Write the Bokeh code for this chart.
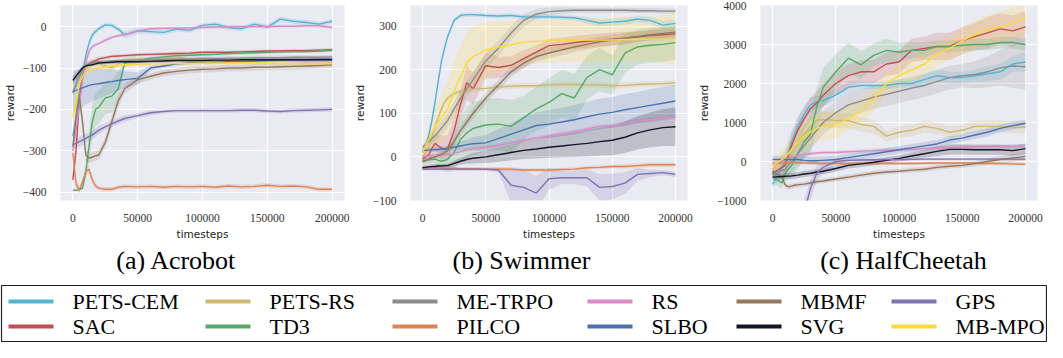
from bokeh.plotting import figure
from bokeh.layouts import column, row
from bokeh.models import Range1d, FixedTicker
from bokeh.core.properties import value
from bokeh.embed import file_html
from bokeh.resources import INLINE

# ---------------- data ----------------
steps = [0, 2500, 5000, 7500, 10000, 12500, 15000, 17500, 20000, 25000, 30000, 35000, 40000,
         50000, 60000, 70000, 80000, 90000, 100000, 110000, 120000, 130000, 140000, 150000,
         160000, 170000, 180000, 190000, 200000]

names = ["PETS-CEM", "SAC", "PETS-RS", "TD3", "ME-TRPO", "PILCO",
         "RS", "SLBO", "MBMF", "SVG", "GPS", "MB-MPO"]
colors = ["#56b4d3", "#c44e52", "#ccb974", "#55a868", "#8c8c8c", "#dd8452",
          "#da8bc3", "#4c72b0", "#937860", "#15152a", "#8172b3", "#fdd93a"]

env_titles = ["(a) Acrobot", "(b) Swimmer", "(c) HalfCheetah"]

# ---- Acrobot: means ----
acro_pets_cem = [-265, -215, -160, -110, -70, -40, -20, -12, -5, 4, 3, -6, -20, -10, -12, -14, -6, -9, 3, 6, -2, -5, 6, -1, 18, 13, 10, 6, 13]
acro_sac = [-370, -300, -180, -120, -95, -90, -85, -82, -78, -75, -72, -71, -70, -68, -67, -66, -65, -64, -62, -62, -62, -61, -60, -59, -59, -58, -58, -57, -56]
acro_pets_rs = [-160, -140, -120, -108, -100, -95, -90, -88, -90, -95, -100, -90, -80, -78, -80, -78, -72, -80, -80, -82, -85, -80, -82, -80, -80, -83, -85, -84, -85]
acro_td3 = [-395, -395, -394, -390, -350, -290, -230, -200, -195, -172, -168, -150, -88, -82, -76, -73, -70, -69, -68, -67, -65, -64, -63, -62, -61, -60, -60, -59, -57]
acro_me_trpo = [-160, -140, -120, -105, -95, -90, -88, -86, -85, -84, -83, -82, -82, -81, -80, -79, -78, -78, -77, -77, -76, -76, -75, -75, -75, -74, -74, -74, -73]
acro_pilco = [-305, -380, -395, -375, -350, -345, -370, -385, -390, -393, -393, -388, -386, -387, -386, -388, -386, -387, -386, -388, -385, -387, -386, -383, -386, -385, -387, -393, -393]
acro_rs = [-300, -250, -190, -130, -86, -60, -48, -44, -41, -33, -26, -22, -19, -11, -5, -4, -4, -3, -2, -1, -1, 0, 0, 0, 1, 1, 2, 2, -2]
acro_slbo = [-157, -154, -151, -148, -145, -142, -140, -139, -138, -135, -133, -130, -128, -125, -100, -95, -90, -88, -87, -86, -85, -84, -83, -82, -81, -80, -80, -79, -78]
acro_mbmf = [-290, -220, -170, -230, -310, -318, -315, -312, -310, -280, -230, -180, -150, -128, -120, -112, -108, -105, -103, -102, -100, -100, -98, -98, -97, -96, -95, -94, -92]
acro_svg = [-130, -120, -110, -100, -95, -93, -92, -90, -88, -87, -86, -85, -85, -85, -84, -83, -82, -82, -82, -81, -81, -80, -80, -80, -80, -80, -80, -80, -80]
acro_gps = [-285, -282, -278, -274, -270, -266, -262, -256, -250, -242, -235, -228, -222, -215, -208, -205, -203, -203, -203, -203, -203, -202, -202, -204, -205, -203, -202, -201, -200]
acro_mb_mpo = [-220, -180, -140, -120, -110, -106, -103, -101, -100, -97, -95, -93, -92, -91, -90, -90, -89, -89, -88, -88, -88, -88, -88, -88, -89, -89, -90, -90, -90]

# ---- Acrobot: band half-widths ----
acro_pets_cem_sd = [15, 15, 15, 12, 10, 8, 8, 6, 6, 6, 6, 6, 8, 8, 6, 6, 6, 6, 6, 6, 6, 6, 6, 6, 6, 6, 6, 6, 6]
acro_sac_sd = [20, 20, 20, 15, 10, 8, 6, 5, 5, 4, 4, 4, 4, 4, 4, 4, 4, 4, 4, 4, 4, 4, 4, 4, 4, 4, 4, 4, 4]
acro_pets_rs_sd = [10, 10, 10, 10, 10, 10, 8, 8, 8, 10, 10, 8, 6, 6, 6, 6, 6, 6, 6, 6, 6, 6, 6, 6, 6, 6, 6, 6, 6]
acro_td3_sd = [2, 2, 2, 3, 20, 35, 40, 40, 40, 40, 40, 40, 10, 5, 4, 4, 4, 4, 4, 4, 4, 4, 4, 4, 4, 4, 4, 4, 4]
acro_me_trpo_sd = [10, 10, 10, 8, 6, 6, 5, 5, 5, 5, 5, 5, 5, 5, 5, 5, 5, 5, 5, 5, 5, 5, 5, 5, 5, 5, 5, 5, 5]
acro_pilco_sd = [10, 10, 8, 10, 10, 10, 8, 6, 5, 5, 5, 5, 5, 5, 5, 5, 5, 5, 5, 5, 5, 5, 5, 5, 5, 5, 5, 5, 5]
acro_rs_sd = [10, 10, 10, 10, 8, 6, 5, 4, 4, 4, 4, 4, 4, 4, 4, 4, 4, 4, 4, 4, 4, 4, 4, 4, 4, 4, 4, 4, 4]
acro_slbo_sd = [50, 50, 48, 46, 44, 42, 40, 38, 36, 32, 28, 24, 20, 15, 6, 5, 4, 4, 4, 4, 4, 4, 4, 4, 4, 4, 4, 4, 4]
acro_mbmf_sd = [20, 20, 20, 20, 15, 12, 12, 12, 12, 12, 15, 15, 12, 10, 8, 8, 8, 8, 8, 8, 8, 8, 8, 8, 8, 8, 8, 8, 8]
acro_svg_sd = [10, 10, 8, 6, 5, 5, 4, 4, 4, 4, 4, 4, 4, 4, 4, 4, 4, 4, 4, 4, 4, 4, 4, 4, 4, 4, 4, 4, 4]
acro_gps_sd = [12, 12, 12, 12, 12, 10, 10, 10, 10, 8, 8, 8, 8, 6, 6, 5, 5, 5, 5, 5, 5, 5, 5, 5, 5, 5, 5, 5, 5]
acro_mb_mpo_sd = [20, 20, 15, 10, 8, 6, 5, 5, 5, 5, 5, 5, 5, 5, 5, 5, 5, 5, 5, 5, 5, 5, 5, 5, 5, 5, 5, 5, 5]

# ---- Swimmer: means ----
swim_pets_cem = [10, 25, 49, 85, 127, 175, 220, 250, 277, 313, 324, 326, 326, 324, 323, 324, 321, 321, 321, 320, 319, 313, 307, 309, 311, 316, 313, 302, 306]
swim_sac = [-5, 0, 5, 20, 31, 25, 20, 18, 20, 60, 120, 170, 156, 209, 205, 210, 225, 240, 255, 258, 262, 265, 268, 270, 272, 275, 278, 280, 282]
swim_pets_rs = [0, 10, 25, 45, 70, 90, 110, 125, 135, 145, 150, 152, 155, 157, 160, 162, 163, 163, 165, 166, 166, 165, 165, 163, 164, 166, 167, 168, 170]
swim_td3 = [-10, -8, -7, -6, -5, -8, -10, -8, -5, 10, 40, 55, 65, 73, 75, 70, 90, 110, 125, 145, 135, 182, 200, 188, 238, 252, 256, 258, 262]
swim_me_trpo = [22, 28, 35, 42, 49, 57, 66, 75, 84, 110, 134, 156, 177, 220, 249, 284, 313, 327, 333, 335, 336, 336, 336, 336, 336, 335, 335, 334, 334]
swim_pilco = [-25, -25, -25, -25, -25, -25, -26, -26, -26, -26, -27, -27, -27, -28, -28, -28, -30, -30, -30, -29, -28, -25, -24, -22, -22, -20, -18, -18, -18]
swim_rs = [0, 1, 2, 3, 4, 5, 5, 5, 5, 8, 12, 16, 19, 22, 27, 32, 38, 43, 48, 53, 58, 64, 70, 72, 76, 82, 85, 88, 91]
swim_slbo = [15, 15, 16, 16, 17, 17, 18, 18, 20, 22, 25, 28, 30, 32, 42, 52, 62, 72, 75, 80, 85, 92, 98, 102, 108, 113, 118, 123, 128]
swim_mbmf = [-10, -8, -5, -2, 0, 3, 6, 10, 15, 35, 60, 80, 100, 135, 165, 195, 215, 230, 238, 245, 252, 258, 264, 268, 272, 276, 280, 283, 286]
swim_svg = [-25, -24, -23, -22, -22, -21, -21, -20, -20, -15, -10, -6, -3, 0, 5, 10, 15, 18, 22, 25, 28, 31, 35, 38, 45, 55, 62, 67, 69]
swim_gps = [-28, -28, -28, -28, -28, -28, -28, -28, -28, -28, -28, -28, -28, -28, -30, -65, -70, -83, -50, -48, -48, -48, -70, -68, -60, -40, -38, -36, -40]
swim_mb_mpo = [10, 25, 40, 55, 70, 80, 90, 100, 110, 150, 184, 216, 230, 245, 252, 257, 263, 265, 266, 267, 268, 268, 268, 268, 269, 269, 270, 270, 270]

# ---- Swimmer: band half-widths ----
swim_pets_cem_sd = [5, 8, 10, 10, 10, 10, 8, 8, 6, 5, 5, 5, 5, 5, 5, 5, 5, 5, 5, 5, 5, 8, 8, 8, 8, 8, 8, 10, 10]
swim_sac_sd = [10, 10, 15, 20, 20, 25, 30, 30, 30, 30, 35, 40, 35, 30, 25, 20, 20, 15, 15, 15, 15, 15, 15, 15, 15, 12, 12, 12, 12]
swim_pets_rs_sd = [5, 5, 5, 5, 6, 6, 6, 6, 6, 6, 6, 6, 6, 6, 6, 6, 6, 6, 6, 6, 6, 6, 6, 6, 6, 6, 6, 6, 6]
swim_td3_sd = [10, 10, 10, 10, 10, 15, 20, 25, 30, 40, 50, 60, 60, 60, 60, 60, 50, 50, 55, 55, 55, 50, 50, 45, 45, 40, 40, 40, 40]
swim_me_trpo_sd = [5, 8, 10, 12, 14, 15, 16, 17, 18, 18, 18, 18, 18, 18, 18, 16, 14, 12, 10, 8, 6, 6, 6, 6, 6, 6, 6, 6, 6]
swim_pilco_sd = [4, 4, 4, 4, 4, 4, 4, 4, 4, 4, 4, 4, 4, 4, 4, 4, 4, 4, 4, 4, 4, 4, 4, 4, 5, 5, 5, 5, 5]
swim_rs_sd = [5, 5, 5, 5, 5, 5, 5, 5, 5, 5, 5, 5, 5, 5, 5, 5, 5, 5, 5, 5, 5, 5, 5, 5, 5, 5, 5, 5, 5]
swim_slbo_sd = [5, 5, 5, 5, 5, 6, 6, 6, 7, 8, 10, 12, 15, 18, 22, 25, 28, 30, 32, 32, 34, 34, 35, 35, 36, 36, 37, 38, 38]
swim_mbmf_sd = [5, 5, 5, 6, 6, 7, 8, 9, 10, 10, 12, 12, 12, 12, 12, 12, 12, 12, 12, 12, 12, 12, 12, 12, 12, 12, 12, 12, 12]
swim_svg_sd = [5, 5, 5, 5, 5, 5, 5, 5, 5, 6, 8, 10, 12, 14, 16, 18, 20, 22, 24, 26, 28, 30, 32, 34, 36, 38, 40, 42, 44]
swim_gps_sd = [3, 3, 3, 3, 3, 3, 3, 3, 3, 3, 3, 3, 3, 3, 5, 40, 40, 40, 25, 15, 15, 20, 30, 30, 25, 15, 8, 6, 6]
swim_mb_mpo_sd = [15, 20, 30, 40, 45, 50, 55, 60, 65, 70, 70, 70, 70, 65, 60, 55, 50, 50, 50, 50, 50, 50, 50, 50, 50, 50, 50, 55, 60]

# ---- HalfCheetah: means ----
cheetah_pets_cem = [-584, -450, -300, -150, 0, 250, 500, 700, 900, 1200, 1450, 1530, 1560, 1700, 1900, 1950, 1950, 1950, 2000, 2000, 2100, 2200, 2150, 2150, 2200, 2250, 2300, 2500, 2550]
cheetah_sac = [-300, -250, -200, -150, -100, 150, 400, 600, 800, 1100, 1350, 1500, 1700, 2000, 2200, 2300, 2300, 2500, 2550, 2850, 2900, 2950, 2950, 3100, 3200, 3300, 3400, 3350, 3450]
cheetah_pets_rs = [-200, -120, -50, 20, 100, 200, 300, 400, 500, 700, 900, 1050, 1080, 1050, 1050, 950, 900, 650, 750, 800, 900, 850, 750, 800, 900, 900, 900, 880, 870]
cheetah_td3 = [-300, -450, -500, -550, -300, -200, -100, 50, 200, 500, 700, 1400, 1900, 2300, 2650, 2480, 2720, 2850, 2800, 2850, 2850, 2950, 2950, 2980, 3000, 3000, 3050, 3050, 3000]
cheetah_me_trpo = [-300, -280, -260, -230, -200, -100, 0, 100, 200, 400, 600, 800, 1000, 1250, 1450, 1550, 1650, 1720, 1800, 1880, 1950, 2050, 2150, 2200, 2230, 2300, 2400, 2450, 2430]
cheetah_pilco = [-50, -45, -40, -35, -30, -30, -30, -30, -30, -35, -40, -45, -50, -50, -50, -50, -50, -50, -50, -50, -45, -40, -40, -40, -45, -50, -55, -60, -70]
cheetah_rs = [-100, -60, -20, 20, 50, 80, 110, 130, 150, 180, 200, 220, 230, 230, 250, 265, 280, 290, 300, 315, 330, 345, 360, 370, 380, 385, 390, 395, 400]
cheetah_slbo = [50, 50, 50, 50, 50, 50, 50, 50, 50, 30, 20, 20, 30, 50, 100, 150, 200, 250, 300, 350, 400, 450, 550, 600, 680, 750, 850, 920, 980]
cheetah_mbmf = [-250, -300, -350, -400, -600, -650, -630, -610, -600, -580, -550, -520, -500, -450, -400, -350, -300, -270, -250, -220, -200, -150, -120, -100, -50, 0, 50, 90, 130]
cheetah_svg = [-400, -395, -390, -385, -380, -375, -370, -360, -350, -320, -300, -270, -250, -180, -100, -60, -20, 30, 80, 140, 200, 260, 310, 310, 300, 300, 300, 280, 330]
cheetah_gps = [-3000, -2800, -2600, -2400, -2200, -2000, -1800, -1600, -1400, -1300, -700, -300, -150, 0, 30, 40, 45, 50, 50, 55, 60, 60, 60, 60, 60, 60, 60, 60, 60]
cheetah_mb_mpo = [-100, -50, 0, 50, 100, 200, 300, 400, 500, 650, 750, 850, 900, 950, 1100, 1300, 1600, 2000, 2200, 2350, 2500, 2750, 2900, 3100, 3250, 3400, 3450, 3550, 3700]

# ---- HalfCheetah: band half-widths ----
cheetah_pets_cem_sd = [100, 150, 200, 250, 300, 300, 300, 250, 250, 200, 200, 150, 150, 150, 150, 100, 100, 100, 100, 100, 150, 150, 150, 150, 150, 200, 200, 200, 250]
cheetah_sac_sd = [100, 100, 120, 150, 200, 250, 300, 300, 300, 300, 300, 300, 300, 300, 300, 300, 300, 300, 300, 300, 300, 350, 350, 350, 350, 400, 400, 400, 400]
cheetah_pets_rs_sd = [100, 100, 120, 150, 150, 150, 180, 200, 200, 200, 200, 200, 200, 200, 200, 180, 180, 150, 150, 150, 150, 150, 150, 150, 150, 150, 150, 150, 150]
cheetah_td3_sd = [150, 150, 150, 150, 200, 250, 300, 350, 400, 450, 500, 500, 500, 450, 400, 350, 300, 300, 250, 200, 200, 150, 150, 150, 150, 150, 150, 150, 150]
cheetah_me_trpo_sd = [100, 100, 120, 150, 200, 250, 300, 300, 300, 300, 300, 300, 300, 300, 300, 300, 300, 300, 300, 300, 300, 300, 300, 300, 350, 400, 450, 550, 600]
cheetah_pilco_sd = [40, 40, 40, 40, 40, 40, 40, 40, 40, 40, 40, 40, 40, 40, 40, 40, 40, 40, 40, 40, 40, 40, 40, 40, 40, 40, 40, 40, 40]
cheetah_rs_sd = [50, 50, 50, 50, 50, 50, 50, 50, 50, 50, 50, 50, 50, 50, 50, 50, 50, 50, 50, 50, 50, 50, 50, 50, 50, 50, 50, 50, 50]
cheetah_slbo_sd = [100, 100, 100, 100, 100, 100, 100, 100, 100, 100, 100, 100, 100, 100, 100, 100, 100, 100, 100, 100, 100, 100, 100, 100, 100, 100, 100, 100, 100]
cheetah_mbmf_sd = [60, 60, 60, 60, 60, 60, 60, 60, 60, 60, 60, 60, 60, 60, 60, 60, 60, 60, 60, 60, 60, 60, 60, 60, 70, 80, 90, 100, 100]
cheetah_svg_sd = [80, 80, 80, 80, 80, 80, 80, 80, 80, 80, 80, 80, 80, 80, 80, 80, 80, 80, 80, 100, 100, 120, 130, 130, 130, 130, 130, 130, 130]
cheetah_gps_sd = [300, 300, 300, 300, 300, 300, 300, 300, 300, 300, 250, 200, 150, 80, 40, 30, 30, 30, 30, 30, 30, 30, 30, 30, 30, 30, 30, 30, 30]
cheetah_mb_mpo_sd = [100, 150, 200, 250, 300, 300, 300, 300, 300, 350, 350, 350, 350, 350, 300, 300, 300, 300, 300, 300, 300, 300, 300, 350, 350, 350, 400, 400, 400]

acro_ticks = [-400, -300, -200, -100, 0]
swim_ticks = [-100, 0, 100, 200, 300]
cheetah_ticks = [-1000, 0, 1000, 2000, 3000, 4000]
x_ticks = [0, 50000, 100000, 150000, 200000]

acro_means = [acro_pets_cem, acro_sac, acro_pets_rs, acro_td3, acro_me_trpo, acro_pilco,
              acro_rs, acro_slbo, acro_mbmf, acro_svg, acro_gps, acro_mb_mpo]
acro_sds = [acro_pets_cem_sd, acro_sac_sd, acro_pets_rs_sd, acro_td3_sd, acro_me_trpo_sd, acro_pilco_sd,
            acro_rs_sd, acro_slbo_sd, acro_mbmf_sd, acro_svg_sd, acro_gps_sd, acro_mb_mpo_sd]
swim_means = [swim_pets_cem, swim_sac, swim_pets_rs, swim_td3, swim_me_trpo, swim_pilco,
              swim_rs, swim_slbo, swim_mbmf, swim_svg, swim_gps, swim_mb_mpo]
swim_sds = [swim_pets_cem_sd, swim_sac_sd, swim_pets_rs_sd, swim_td3_sd, swim_me_trpo_sd, swim_pilco_sd,
            swim_rs_sd, swim_slbo_sd, swim_mbmf_sd, swim_svg_sd, swim_gps_sd, swim_mb_mpo_sd]
cheetah_means = [cheetah_pets_cem, cheetah_sac, cheetah_pets_rs, cheetah_td3, cheetah_me_trpo, cheetah_pilco,
                 cheetah_rs, cheetah_slbo, cheetah_mbmf, cheetah_svg, cheetah_gps, cheetah_mb_mpo]
cheetah_sds = [cheetah_pets_cem_sd, cheetah_sac_sd, cheetah_pets_rs_sd, cheetah_td3_sd, cheetah_me_trpo_sd, cheetah_pilco_sd,
               cheetah_rs_sd, cheetah_slbo_sd, cheetah_mbmf_sd, cheetah_svg_sd, cheetah_gps_sd, cheetah_mb_mpo_sd]

# ---------------- styling ----------------
BG = "#eaeaf2"
TICK_FONT = "Liberation Serif"
LABEL_FONT = "DejaVu Sans"
TOP_H = 242


def fmt(v):
    return ("\u2212" + str(-v)) if v < 0 else str(v)


def panel(means, sds, yr, yticks, width, bl, br):
    p = figure(width=width, height=TOP_H, x_range=Range1d(-9500, 209500), y_range=Range1d(*yr),
               output_backend="svg", toolbar_location=None,
               min_border_left=bl, min_border_right=br, min_border_top=5, min_border_bottom=33)
    p.background_fill_color = BG
    p.border_fill_color = "white"
    p.outline_line_color = None
    for m, s, c in zip(means, sds, colors):
        lo = [a - b for a, b in zip(m, s)]
        hi = [a + b for a, b in zip(m, s)]
        p.varea(x=steps, y1=lo, y2=hi, fill_color=c, fill_alpha=0.2)
    for m, c in zip(means, colors):
        p.line(steps, m, line_color=c, line_width=1.4)
    p.xaxis.ticker = FixedTicker(ticks=x_ticks)
    p.yaxis.ticker = FixedTicker(ticks=yticks)
    p.xaxis.major_label_overrides = {t: fmt(t) for t in x_ticks}
    p.yaxis.major_label_overrides = {t: fmt(t) for t in yticks}
    p.xgrid.ticker = FixedTicker(ticks=x_ticks)
    p.ygrid.ticker = FixedTicker(ticks=yticks)
    p.grid.grid_line_color = "white"
    p.grid.grid_line_width = 1.2
    for ax in (p.xaxis[0], p.yaxis[0]):
        ax.axis_line_color = None
        ax.major_tick_line_color = None
        ax.minor_tick_line_color = None
        ax.major_label_text_font = TICK_FONT
        ax.major_label_text_font_size = "11.5px"
        ax.major_label_text_color = "#333333"
        ax.axis_label_text_font = LABEL_FONT
        ax.axis_label_text_font_size = "10.5px"
        ax.axis_label_text_font_style = "normal"
        ax.axis_label_text_color = "#222222"
    p.xaxis.axis_label = "timesteps"
    p.yaxis.axis_label = "reward"
    p.xaxis.major_label_standoff = 7
    p.xaxis.axis_label_standoff = 3
    p.yaxis.major_label_standoff = 8
    p.yaxis.axis_label_standoff = 4
    return p


p1 = panel(acro_means, acro_sds, (-420, 51), acro_ticks, 350, 56, 6)
p2 = panel(swim_means, swim_sds, (-100, 347), swim_ticks, 345, 50, 8)
p3 = panel(cheetah_means, cheetah_sds, (-1000, 4000), cheetah_ticks, 352, 60, 10)

# ---------------- captions + legend ----------------
BW, BH = 1047, 100
pb = figure(width=BW, height=BH, x_range=Range1d(0, BW), y_range=Range1d(BH, 0),
            output_backend="svg", toolbar_location=None,
            min_border_left=0, min_border_right=0, min_border_top=0, min_border_bottom=0)
pb.xaxis.visible = False
pb.yaxis.visible = False
pb.grid.visible = False
pb.outline_line_color = None
pb.background_fill_color = "white"

cap_x = [176, 521, 903]
pb.text(x=cap_x, y=[18, 18, 18], text=env_titles, text_font=value("Liberation Serif"),
        text_font_size="26px", text_align="center", text_baseline="middle", text_color="black")

# legend box
pb.quad(left=[1], right=[1046], top=[43], bottom=[99], fill_color=None,
        line_color="#222222", line_width=1.2)
col_line_x = [8, 205, 392, 587, 736, 891]
row_y = [59, 84]
line_len = 45
text_gap = 19
lx0, lx1, ly, tx = [], [], [], []
for i, name in enumerate(names):
    ci, ri = i // 2, i % 2
    lx0.append(col_line_x[ci])
    lx1.append(col_line_x[ci] + line_len)
    ly.append(row_y[ri])
    tx.append(col_line_x[ci] + line_len + text_gap)
pb.segment(x0=lx0, y0=ly, x1=lx1, y1=ly, line_color=colors, line_width=4)
pb.text(x=tx, y=ly, text=names, text_font=value("Liberation Serif"), text_font_size="22px",
        text_align="left", text_baseline="middle", text_color="black")

layout = column(row(p1, p2, p3), pb)
open("out.html", "w").write(file_html(layout, INLINE))
